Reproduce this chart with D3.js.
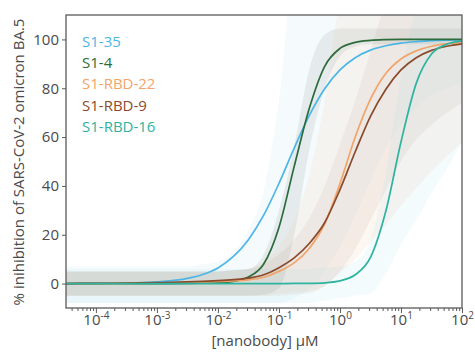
<!DOCTYPE html>
<html>
<head>
<meta charset="utf-8">
<script src="https://cdn.jsdelivr.net/npm/d3@7"></script>
<style>
  body { margin: 0; background: #fff; }
  text { font-family: "Open Sans", sans-serif; }
</style>
</head>
<body>
<div id="chart"></div>
<script>
// log10 of [nanobody] in uM, shared by all curves and bands
var logConc = [-4.5, -4, -3.5, -3, -2.5, -2.25, -2, -1.75, -1.5, -1.25, -1, -0.75, -0.5, -0.25, 0, 0.25, 0.5, 0.75, 1, 1.25, 1.5, 1.75, 2];

var names = ["S1-35", "S1-4", "S1-RBD-22", "S1-RBD-9", "S1-RBD-16"];
var colors = ["#4cb6e6", "#2b6b3c", "#f2a46a", "#8a4a2c", "#2db3a0"];
var bandColors = ["#7cc6ea", "#7d857a", "#e9b48a", "#b08c74", "#86cfe0"];

// % inhibition
var s1_35  = [0, 0.1, 0.2, 0.7, 2.1, 3.7, 6.4, 11, 18, 28, 41, 55.5, 69, 79.8, 87.5, 92.5, 95.6, 97.4, 98.5, 99.1, 99.5, 99.7, 99.8];
var s1_4   = [0, 0, 0, 0, 0.1, 0.2, 0.3, 0.9, 2.7, 8, 23, 48, 72, 89, 96.3, 98.8, 99.6, 99.9, 100, 100, 100, 100, 100];
var rbd22  = [0, 0, 0.1, 0.2, 0.4, 0.6, 0.8, 1.1, 1.5, 2.6, 5, 8.5, 14.5, 24.5, 41, 60, 75.5, 86, 92, 95.3, 97.2, 98.2, 98.8];
var rbd9   = [0, 0.1, 0.2, 0.4, 0.7, 0.9, 1.2, 1.6, 2.2, 3.6, 6.5, 10.5, 16.5, 25, 38.5, 54, 68.5, 79.5, 87.5, 92.5, 95.5, 97.2, 98.2];
var rbd16  = [0, 0, 0, 0, 0, 0, 0, 0, 0, 0, 0, 0.05, 0.1, 0.3, 1.1, 3.6, 10.7, 29.5, 58, 82, 94, 98, 99.4];

// confidence band limits
var s1_35Lo = [-8, -8, -8, -8, -8, -8, -8, -8, -8, -8, -8, -6, -2, 5, 15, 28, 42, 55, 65, 72, 77, 80, 82];
var s1_35Hi = [7, 7, 7, 7, 7, 8, 9, 13, 22, 38, 75, 125, 125, 125, 125, 125, 125, 125, 125, 125, 125, 125, 125];
var s1_4Lo  = [-5, -5, -5, -5, -5, -5, -5, -5, -5, -4.5, -2, 20, 55, 80, 93, 97, 98, 98, 98, 98, 98, 98, 98];
var s1_4Hi  = [5, 5, 5, 5, 5, 5, 5, 5.5, 6, 12, 30, 56, 88, 102, 104.5, 104.5, 104.5, 104.5, 104.5, 104.5, 104.5, 104.5, 104.5];
var rbd22Lo = [-5, -5, -5, -5, -5, -5, -5, -5, -5, -5, -4, -3.5, -3, -1, 4.5, 10, 17, 24, 32, 39, 46, 52, 58];
var rbd22Hi = [5, 5, 5, 5, 5, 5, 5, 5.5, 6, 9, 15, 26, 45, 75, 115, 125, 125, 125, 125, 125, 125, 125, 125];
var rbd9Lo  = [-5, -5, -5, -5, -5, -5, -5, -5, -5, -5, -5, -4.5, -4, -1, 5, 14, 26, 38, 50, 59, 65, 70, 74];
var rbd9Hi  = [5, 5, 5, 5, 5, 5, 5, 5.5, 6, 8, 12, 18, 27, 40, 57, 75, 95, 115, 125, 125, 125, 125, 125];
var rbd16Lo = [-8, -8, -8, -8, -8, -8, -8, -8, -8, -8, -8, -8, -8, -7, -6, -5, -4, 4, 16, 26, 37, 47, 58];
var rbd16Hi = [6, 6, 6, 6, 6, 6, 6, 6, 6, 6, 6, 6, 6, 6.5, 7, 9, 18, 45, 85, 112, 125, 125, 125];

var yTicks = [0, 20, 40, 60, 80, 100];
var xDecades = [-4, -3, -2, -1, 0, 1, 2];

var curves = [s1_35, s1_4, rbd22, rbd9, rbd16];
var lows = [s1_35Lo, s1_4Lo, rbd22Lo, rbd9Lo, rbd16Lo];
var highs = [s1_35Hi, s1_4Hi, rbd22Hi, rbd9Hi, rbd16Hi];
var bandOpacity = [0.08, 0.13, 0.11, 0.1, 0.09];

var series = names.map(function (n, i) {
  return { name: n, color: colors[i], band: bandColors[i], op: bandOpacity[i], y: curves[i], lo: lows[i], hi: highs[i] };
});

var width = 475, height = 356;
var m = { left: 66, right: 13, top: 15, bottom: 48 };

var svg = d3.select("#chart").append("svg")
  .attr("width", width)
  .attr("height", height);

var x = d3.scaleLog().domain([Math.pow(10, -4.49), 100]).range([m.left, width - m.right]);
var y = d3.scaleLinear().domain([-10, 110]).range([height - m.bottom, m.top]);

svg.append("clipPath").attr("id", "plotclip")
  .append("rect")
  .attr("x", m.left).attr("y", m.top)
  .attr("width", width - m.left - m.right)
  .attr("height", height - m.top - m.bottom);

var plot = svg.append("g").attr("clip-path", "url(#plotclip)");

var area = d3.area()
  .x(function (d) { return x(Math.pow(10, d.lx)); })
  .y0(function (d) { return y(d.lo); })
  .y1(function (d) { return y(d.hi); })
  .curve(d3.curveMonotoneX);

var line = d3.line()
  .x(function (d) { return x(Math.pow(10, d.lx)); })
  .y(function (d) { return y(d.v); })
  .curve(d3.curveMonotoneX);

// bands
series.forEach(function (s) {
  var pts = logConc.map(function (lx, i) { return { lx: lx, lo: s.lo[i], hi: s.hi[i] }; });
  plot.append("path")
    .attr("d", area(pts))
    .attr("fill", s.band)
    .attr("fill-opacity", s.op);
});

// curves
series.forEach(function (s) {
  var pts = logConc.map(function (lx, i) { return { lx: lx, v: s.y[i] }; });
  plot.append("path")
    .attr("d", line(pts))
    .attr("fill", "none")
    .attr("stroke", s.color)
    .attr("stroke-width", 1.7);
});

// frame
svg.append("rect")
  .attr("x", m.left).attr("y", m.top)
  .attr("width", width - m.left - m.right)
  .attr("height", height - m.top - m.bottom)
  .attr("fill", "none")
  .attr("stroke", "#5a5a5a")
  .attr("stroke-width", 1.3);

// y axis
var yAxis = svg.append("g")
  .attr("transform", "translate(" + m.left + ",0)")
  .call(d3.axisLeft(y).tickValues(yTicks).tickSize(4).tickPadding(3));
yAxis.select(".domain").remove();
yAxis.selectAll("line").attr("stroke", "#5a5a5a");
yAxis.selectAll("text")
  .attr("font-size", 15)
  .attr("fill", "#4a4a4a")
  .style("font-family", "'Open Sans', sans-serif");

// x axis minor ticks
var minor = [];
for (var d = -5; d < 2; d++) {
  for (var k = 2; k <= 9; k++) {
    var v = k * Math.pow(10, d);
    if (v >= x.domain()[0] && v <= 100) minor.push(v);
  }
}
var xMinor = svg.append("g")
  .attr("transform", "translate(0," + (height - m.bottom) + ")")
  .call(d3.axisBottom(x).tickValues(minor).tickSize(3).tickFormat(""));
xMinor.select(".domain").remove();
xMinor.selectAll("line").attr("stroke", "#5a5a5a");

var xMajor = svg.append("g")
  .attr("transform", "translate(0," + (height - m.bottom) + ")")
  .call(d3.axisBottom(x).tickValues(xDecades.map(function (e) { return Math.pow(10, e); }))
    .tickSize(5).tickFormat(""));
xMajor.select(".domain").remove();
xMajor.selectAll("line").attr("stroke", "#5a5a5a");

xMajor.selectAll(".tick").data(xDecades).each(function (e) {
  var t = d3.select(this).append("text")
    .attr("y", 17)
    .attr("fill", "#4a4a4a")
    .attr("font-size", 15)
    .attr("text-anchor", "middle");
  t.append("tspan").text("10");
  t.append("tspan").attr("dy", -6).attr("font-size", 10).text(String(e));
});

// axis titles
svg.append("text")
  .attr("x", (m.left + width - m.right) / 2 + 1)
  .attr("y", 346)
  .attr("text-anchor", "middle")
  .attr("font-size", 15)
  .attr("fill", "#4a4a4a")
  .text("[nanobody] \u03bcM");

svg.append("text")
  .attr("transform", "translate(24," + 162 + ") rotate(-90)")
  .attr("text-anchor", "middle")
  .attr("font-size", 15)
  .attr("fill", "#4a4a4a")
  .text("% inihibition of SARS-CoV-2 omicron BA.5");

// legend
svg.append("g").selectAll("text")
  .data(series)
  .enter().append("text")
  .attr("x", 82)
  .attr("y", function (d, i) { return 46.5 + i * 21.4; })
  .attr("font-size", 15)
  .attr("fill", function (d) { return d.color; })
  .text(function (d) { return d.name; });
</script>
</body>
</html>
